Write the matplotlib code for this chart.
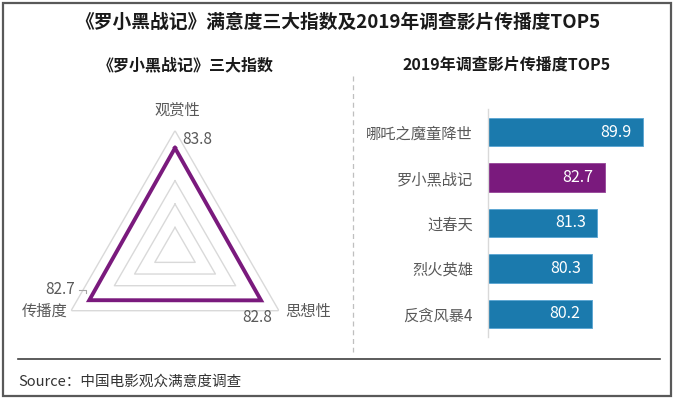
import numpy as np
import matplotlib
matplotlib.use("Agg")
import matplotlib.pyplot as plt
from matplotlib.patches import Rectangle
from matplotlib.lines import Line2D

plt.rcParams['font.family'] = ['Noto Sans CJK SC', 'DejaVu Sans']

# ---------------- data ----------------
title = "《罗小黑战记》满意度三大指数及2019年调查影片传播度TOP5"
radar_title = "《罗小黑战记》三大指数"
bar_title = "2019年调查影片传播度TOP5"
source_text = "Source：中国电影观众满意度调查"

radar_labels = ["观赏性", "思想性", "传播度"]
radar_values = [83.8, 82.8, 82.7]
radar_grid_levels = [60, 67, 74, 89]

films = ["哪吒之魔童降世", "罗小黑战记", "过春天", "烈火英雄", "反贪风暴4"]
spread = [89.9, 82.7, 81.3, 80.3, 80.2]
highlight = "罗小黑战记"

# ---------------- styles ----------------
W, H = 674, 399
BLUE = "#1B7AAD"
PURPLE = "#7A1A7D"
GRAY_TXT = "#595959"
GRID = "#D9D9D9"

fig = plt.figure(figsize=(W / 100, H / 100), dpi=100)

def fx(px):
    return px / W

def fy(py):
    return 1 - py / H

# border
fig.add_artist(Rectangle((fx(3), fy(396)), fx(668), 393 / H, transform=fig.transFigure,
                         fill=False, edgecolor="#595959", lw=1.6))

fig.text(fx(338), fy(22), title, ha="center", va="center", fontsize=13.5,
         fontweight="bold", color="#1a1a1a")
fig.text(fx(186), fy(65), radar_title, ha="center", va="center", fontsize=11.5,
         fontweight="bold", color="#1a1a1a")
fig.text(fx(507), fy(65), bar_title, ha="center", va="center", fontsize=11.5,
         fontweight="bold", color="#1a1a1a")

# separators
fig.add_artist(Line2D([fx(353), fx(353)], [fy(76), fy(352)], transform=fig.transFigure,
                      color="#BFBFBF", lw=0.9, ls=(0, (4, 3))))
fig.add_artist(Line2D([fx(18), fx(660)], [fy(358.5), fy(358.5)], transform=fig.transFigure,
                      color="#404040", lw=1.2))
fig.text(fx(18), fy(381.5), source_text, ha="left", va="center", fontsize=10.5,
         color="#333333")

# ---------------- radar ----------------
cx, cy, R = 175, 250.7, 120
axr = fig.add_axes([fx(cx - R), fy(cy + R), fx(2 * R), 2 * R / H], projection="polar")
axr.set_theta_offset(np.pi / 2)
axr.set_theta_direction(-1)
axr.set_ylim(53, 89)
angles = np.arange(len(radar_labels)) * 2 * np.pi / len(radar_labels)
closed_a = np.append(angles, angles[0])
for lv in radar_grid_levels:
    axr.plot(closed_a, [lv] * len(closed_a), color=GRID, lw=1.0, zorder=1)
vals = np.append(radar_values, radar_values[0])
axr.plot(closed_a, vals, color=PURPLE, lw=2.8, zorder=3, solid_joinstyle="miter")
axr.grid(False)
axr.set_xticks([])
axr.set_yticks([])
axr.spines["polar"].set_visible(False)
axr.patch.set_alpha(0)

label_pos = [(177, 110.5), (308, 311.5), (45, 311.5)]
value_pos = [(197, 140), (257, 318), (60, 290)]
for i, (lab, v) in enumerate(zip(radar_labels, radar_values)):
    fig.text(fx(label_pos[i][0]), fy(label_pos[i][1]), lab, ha="center", va="center",
             fontsize=11, color=GRAY_TXT)
    fig.text(fx(value_pos[i][0]), fy(value_pos[i][1]), f"{v:.1f}", ha="center",
             va="center", fontsize=11, color=GRAY_TXT)
# small leader line next to the 传播度 value
fig.add_artist(Line2D([fx(79), fx(86), fx(86)], [fy(289.5), fy(289.5), fy(293)],
                      transform=fig.transFigure, color="#A6A6A6", lw=0.8))

# ---------------- bars ----------------
axb = fig.add_axes([fx(488.3), fy(336.7), fx(660 - 488.3), 227.4 / H])
y = np.arange(len(films))
colors = [PURPLE if f == highlight else BLUE for f in films]
edges = ["#9A4E9C" if f == highlight else "#5FA8D3" for f in films]
axb.barh(y, spread, left=0, height=0.625, color=colors, edgecolor=edges, lw=0.7)
axb.set_xlim(60.6, 93.2)
axb.set_ylim(len(films) - 0.5, -0.5)
axb.set_yticks(y)
axb.set_yticklabels(films, fontsize=11, color=GRAY_TXT)
axb.tick_params(axis="y", length=0, pad=11)
axb.set_xticks([])
for s in ["top", "right", "bottom"]:
    axb.spines[s].set_visible(False)
axb.spines["left"].set_color(GRID)
axb.spines["left"].set_linewidth(1.0)
for yi, v in zip(y, spread):
    axb.annotate(f"{v:.1f}", xy=(v, yi), xytext=(-8, 0), textcoords="offset points",
                 ha="right", va="center", fontsize=11.5, color="white")

fig.savefig("out.png", dpi=100)
